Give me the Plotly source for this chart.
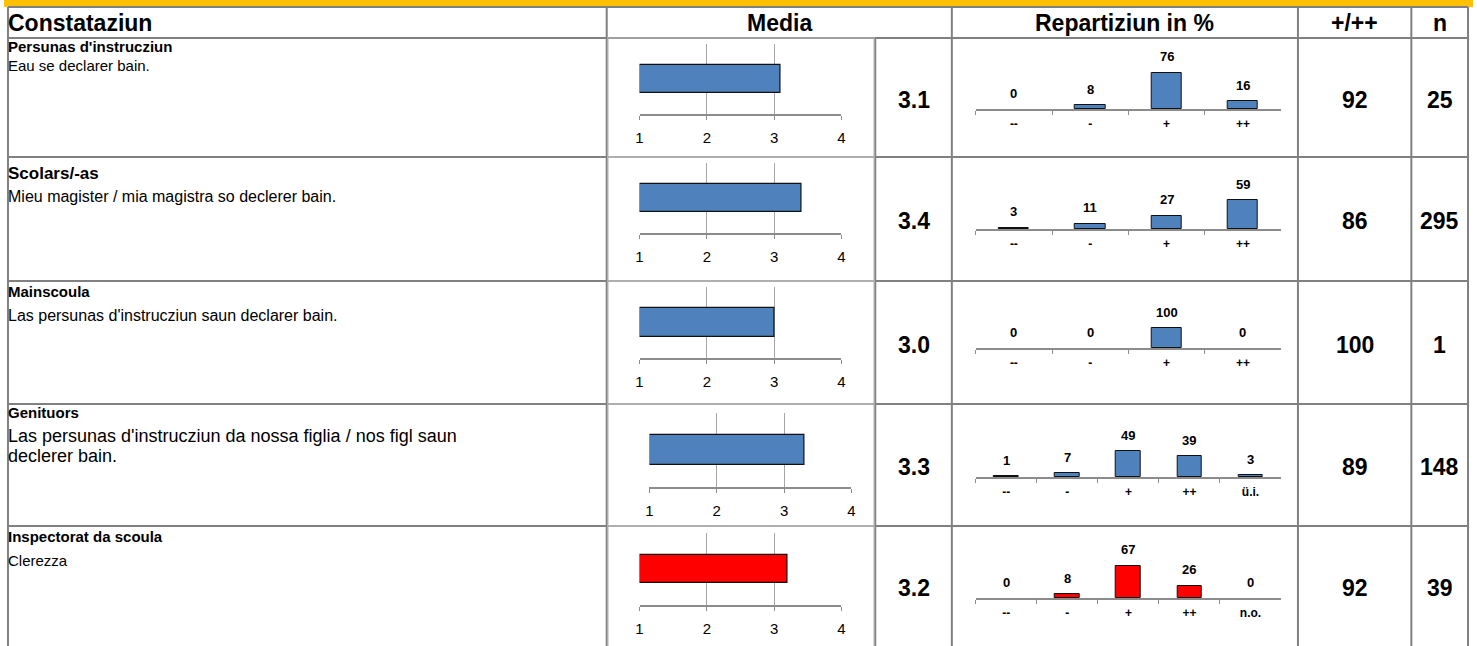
import plotly.graph_objects as go

W, H = 1477, 646
FONT = "Liberation Sans, Arial, sans-serif"

# ---- data -------------------------------------------------------------
headers = ["Constataziun", "Media", "Repartiziun in %", "+/++", "n"]
groups = ["Persunas d'instrucziun", "Scolars/-as", "Mainscoula", "Genituors",
          "Inspectorat da scoula"]
statements = ["Eau se declarer bain.",
              "Mieu magister / mia magistra so declerer bain.",
              "Las persunas d'instrucziun saun declarer bain.",
              "Las persunas d'instrucziun da nossa figlia / nos figl saun<br>declerer bain.",
              "Clerezza"]
means = [3.1, 3.4, 3.0, 3.3, 3.2]
mean_ticks = [1, 2, 3, 4]
dist_categories = [["--", "-", "+", "++"],
                   ["--", "-", "+", "++"],
                   ["--", "-", "+", "++"],
                   ["--", "-", "+", "++", "ü.i."],
                   ["--", "-", "+", "++", "n.o."]]
dist_values = [[0, 8, 76, 16],
               [3, 11, 27, 59],
               [0, 0, 100, 0],
               [1, 7, 49, 39, 3],
               [0, 8, 67, 26, 0]]
positive_share = [92, 86, 100, 89, 92]
n_answers = [25, 295, 1, 148, 39]

# ---- styling / geometry (pixels) -------------------------------------
BLUE, RED = "#4F81BD", "#FF0000"
bar_colors = [BLUE, BLUE, BLUE, BLUE, RED]
GRID = "#808080"
BOX = "#ABABAB"
AXIS = "#8C8C8C"

row_tops = [38, 157, 281, 404, 526]
row_bottoms = row_tops[1:] + [660]
title_y = [47, 173, 291, 412, 536]
title_size = [15, 17, 15, 15, 15]
desc_y = [65, 197, 315, 436, 560]      # first line
desc_size = [15, 16, 16, 18, 15]
desc_step = [17, 19, 19, 20, 18]
# mean chart: (x of value 1, x of value 4, top of gridlines, axis line)
mean_geo = [(639, 842, 44, 114), (639, 842, 163, 233), (639, 842, 287, 358),
            (649, 852, 413, 487), (639, 842, 533, 605)]
# distribution chart: (left, right, axis line, pixels per percent)
dist_geo = [(977, 1284, 109, 0.478), (977, 1284, 229, 0.49), (977, 1284, 348, 0.20),
            (977, 1284, 477, 0.53), (977, 1284, 598, 0.48)]

COL_L, COL_MEDIA, COL_VAL, COL_DIST, COL_POS, COL_N, COL_R = 4, 606, 876, 953, 1301, 1415, 1472


def px(x):
    return x / W


def py(y):
    return 1 - y / H


fig = go.Figure()
layout = dict(width=W, height=H, margin=dict(l=0, r=0, t=0, b=0),
              paper_bgcolor="white", plot_bgcolor="rgba(0,0,0,0)",
              showlegend=False, bargap=0, font=dict(family=FONT, color="black"))
annotations = []
shapes = []

# ---- table frame -----------------------------------------------------
shapes.append(dict(type="rect", xref="paper", yref="paper", x0=0, x1=1,
                   y0=py(7), y1=1, fillcolor="#FFC000", line=dict(width=0), layer="below"))


def hline(y, x0=COL_L, x1=COL_R, color=GRID, w=2):
    shapes.append(dict(type="line", xref="paper", yref="paper", x0=px(x0), x1=px(x1),
                       y0=py(y), y1=py(y), line=dict(color=color, width=w)))


def vline(x, y0, y1, color=GRID, w=2):
    shapes.append(dict(type="line", xref="paper", yref="paper", x0=px(x), x1=px(x),
                       y0=py(y0), y1=py(y1), line=dict(color=color, width=w)))


hline(7)
hline(38)
for t in row_tops[1:]:
    hline(t, COL_L, COL_MEDIA)
    hline(t, COL_VAL, COL_R)
for x in [COL_L, COL_MEDIA, COL_DIST, COL_POS, COL_N, COL_R]:
    vline(x, 7, H)
vline(COL_VAL, 38, H)

# light frames around the mean charts
for t, b in zip(row_tops, row_bottoms):
    shapes.append(dict(type="rect", xref="paper", yref="paper",
                       x0=px(COL_MEDIA + 1), x1=px(COL_VAL - 1),
                       y0=py(b), y1=py(t),
                       line=dict(color=BOX, width=1.5), fillcolor="rgba(0,0,0,0)"))

# ---- header texts ----------------------------------------------------
hdr_y = 23
hdr_pos = [(2, "left"), ((COL_MEDIA + COL_DIST) / 2, "center"),
           ((COL_DIST + COL_POS) / 2, "center"), ((COL_POS + COL_N) / 2, "center"),
           ((COL_N + COL_R) / 2, "center")]
for text, (x, anchor) in zip(headers, hdr_pos):
    annotations.append(dict(xref="paper", yref="paper", x=px(x), y=py(hdr_y),
                            xanchor=anchor, yanchor="middle", showarrow=False,
                            text=f"<b>{text}</b>", font=dict(size=23, family=FONT)))

# ---- rows --------------------------------------------------------------
for i in range(len(groups)):
    t, b = row_tops[i], min(row_bottoms[i], H)
    mid = (t + b) / 2 + 2
    annotations.append(dict(xref="paper", yref="paper", x=px(2), y=py(title_y[i]),
                            xanchor="left", yanchor="middle", showarrow=False,
                            text=f"<b>{groups[i]}</b>",
                            font=dict(size=title_size[i], family=FONT)))
    for j, line in enumerate(statements[i].split("<br>")):
        annotations.append(dict(xref="paper", yref="paper", x=px(2),
                                y=py(desc_y[i] + j * desc_step[i]),
                                xanchor="left", yanchor="middle", showarrow=False,
                                text=line, font=dict(size=desc_size[i], family=FONT)))
    for val, xc in [(f"{means[i]:.1f}", (COL_VAL + COL_DIST) / 2),
                    (str(positive_share[i]), (COL_POS + COL_N) / 2),
                    (str(n_answers[i]), (COL_N + COL_R) / 2)]:
        annotations.append(dict(xref="paper", yref="paper", x=px(xc), y=py(mid),
                                xanchor="center", yanchor="middle", showarrow=False,
                                text=f"<b>{val}</b>", font=dict(size=23, family=FONT)))

    # mean bar chart
    k = 2 * i + 1
    xa, ya = ("x" if k == 1 else f"x{k}"), ("y" if k == 1 else f"y{k}")
    x1p, x4p, gtop, gax = mean_geo[i]
    fig.add_trace(go.Bar(x=[means[i] - mean_ticks[0]], y=[0], base=[mean_ticks[0]],
                         orientation="h", width=0.4, xaxis=xa, yaxis=ya,
                         marker=dict(color=bar_colors[i], line=dict(color="#111111", width=1.2)),
                         hoverinfo="skip"))
    layout[f"xaxis{'' if k == 1 else k}"] = dict(
        domain=[px(x1p), px(x4p)], anchor=ya, range=[mean_ticks[0], mean_ticks[-1]],
        tickvals=mean_ticks, showgrid=True, gridcolor="#A6A6A6", gridwidth=1,
        showline=True, linecolor=AXIS, linewidth=1.5, ticks="outside", ticklen=4,
        tickcolor=AXIS, tickwidth=1, zeroline=False, ticklabelstandoff=5,
        tickfont=dict(size=15, family=FONT, color="black"), fixedrange=True)
    layout[f"yaxis{'' if k == 1 else k}"] = dict(
        domain=[py(gax), py(gtop)], anchor=xa, range=[-0.5, 0.5], visible=False,
        fixedrange=True)

    # distribution chart
    k = 2 * i + 2
    xa, ya = f"x{k}", f"y{k}"
    d0, d1, dax, ppp = dist_geo[i]
    plot_h = 70
    cats = dist_categories[i]
    vals = dist_values[i]
    fig.add_trace(go.Bar(x=cats, y=vals, width=0.4, xaxis=xa, yaxis=ya,
                         marker=dict(color=bar_colors[i],
                                     line=dict(color="#111111",
                                               width=[1 if v > 0 else 0 for v in vals])),
                         hoverinfo="skip"))
    layout[f"xaxis{k}"] = dict(
        domain=[px(d0), px(d1)], anchor=ya, type="category", categoryorder="array",
        categoryarray=cats, range=[-0.5, len(cats) - 0.5], tickvals=cats,
        ticktext=[f"<b>{c}</b>" for c in cats], showgrid=False, showline=True,
        linecolor=AXIS, linewidth=1.5, ticks="outside", tickson="boundaries", ticklen=4,
        tickcolor=AXIS, tickwidth=1, tickfont=dict(size=12, family=FONT, color="black"),
        ticklabelstandoff=3, fixedrange=True)
    layout[f"yaxis{k}"] = dict(domain=[py(dax), py(dax - plot_h)], anchor=xa,
                               range=[0, plot_h / ppp], visible=False, fixedrange=True)
    for c, v in zip(cats, vals):
        annotations.append(dict(xref=xa, yref=ya, x=c, y=v, yshift=16, showarrow=False,
                                xanchor="center", yanchor="middle", text=f"<b>{v}</b>",
                                font=dict(size=13, family=FONT)))

layout["annotations"] = annotations
layout["shapes"] = shapes
fig.update_layout(**layout)
fig.write_html("out.html")
